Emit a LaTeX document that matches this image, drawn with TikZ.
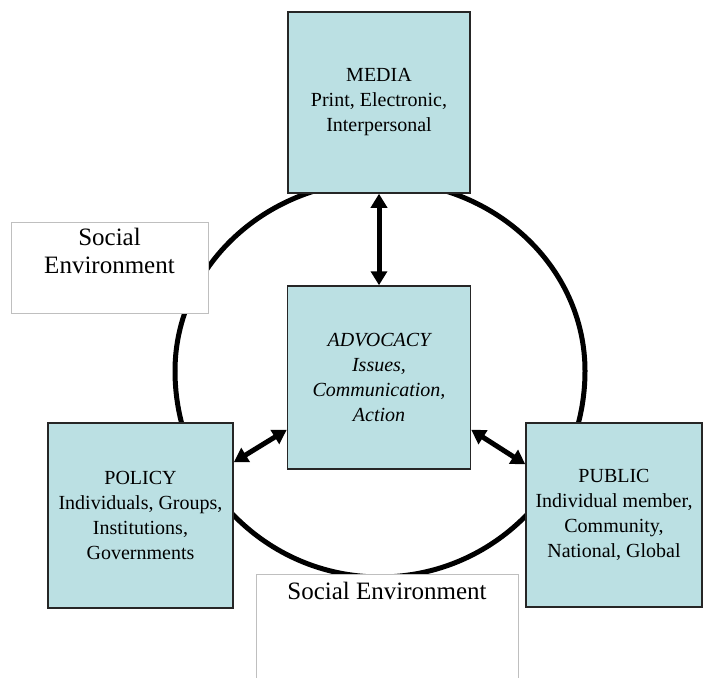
\documentclass[tikz,border=0pt]{standalone}
\usepackage{fontspec}
\setmainfont{Liberation Serif}
\usetikzlibrary{arrows.meta}
\definecolor{boxblue}{RGB}{187,224,227}
\definecolor{framegray}{RGB}{191,191,191}
\tikzset{
	area/.style = {draw = black!85, fill = boxblue, line width = 1.5pt, minimum width = 183pt, minimum height = 183pt, inner sep = 0pt, align = center, font = \fontsize{20}{25}\selectfont},
	env/.style = {draw = framegray, fill = white, line width = .8pt, inner sep = 0pt},
	envtext/.style = {anchor = north, inner sep = 0pt, align = center, font = \fontsize{25}{28}\selectfont},
	ring/.style = {line width = 5pt},
	link/.style = {line width = 5pt, {Triangle[width = 16pt, length = 14pt]}-{Triangle[width = 16pt, length = 14pt]}}
}
\begin{document}
\begin{tikzpicture}[x = 1pt, y = -1pt]
	\useasboundingbox (0, 0) rectangle (703, 677);
	\clip (0, 0) rectangle (703, 677);
	% ring round the centre, a little flatter on top
	\draw[ring] (175, 371) arc [start angle = 180, end angle = 360, x radius = 205, y radius = 190];
	\draw[ring] (175, 371) arc [start angle = 180, end angle = 0, x radius = 205, y radius = 206];
	% social environment labels, white boxes laid over the ring
	\node[env, minimum width = 197pt, minimum height = 91pt] (envleft) at (109.5, 267.5) {};
	\node[envtext] (envlefttext) at ([yshift = -6pt]envleft.north) {Social\\Environment};
	\node[env, minimum width = 262pt, minimum height = 126pt] (envbottom) at (387, 637) {};
	\node[envtext] (envbottomtext) at ([yshift = -8pt]envbottom.north) {Social Environment};
	% the four areas
	\node[area, minimum height = 181pt, minimum width = 182pt] (media) at (379, 102.5) {MEDIA\\Print, Electronic,\\Interpersonal};
	\node[area, font = \fontsize{20}{25}\selectfont\itshape] (advocacy) at (379, 377.5) {ADVOCACY\\Issues,\\Communication,\\Action};
	\node[area, minimum width = 185pt, minimum height = 185pt] (policy) at (140.5, 515.5) {POLICY\\Individuals, Groups,\\Institutions,\\Governments};
	\node[area, minimum width = 176pt, minimum height = 184pt] (public) at (614, 515) {PUBLIC\\Individual member,\\Community,\\National, Global};
	% links to the centre
	\draw[link] (media) -- (advocacy);
	\draw[link] ([yshift = -40pt]policy.north east) -- ([yshift = 40pt]advocacy.south west);
	\draw[link] ([yshift = 40pt]advocacy.south east) -- ([yshift = -42pt]public.north west);
\end{tikzpicture}
\end{document}
